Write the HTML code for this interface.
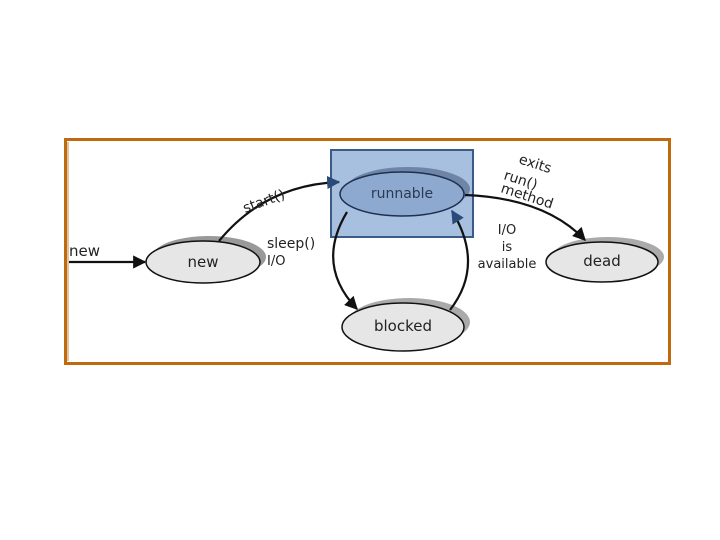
<!DOCTYPE html>
<html><head><style>body{margin:0;background:#fff}svg{display:block}text{font-family:"DejaVu Sans","Liberation Sans",sans-serif;fill:#222}</style></head>
<body><svg width="720" height="540" viewBox="0 0 720 540">
<defs><marker id="a" viewBox="0 0 10 10" refX="9" refY="5" markerWidth="6" markerHeight="6" orient="auto"><path d="M0,0L10,5L0,10z" fill="#111"/></marker>
<marker id="b" viewBox="0 0 10 10" refX="9" refY="5" markerWidth="6" markerHeight="6" orient="auto"><path d="M0,0L10,5L0,10z" fill="#2a4a78"/></marker></defs>
<rect x="65.5" y="139.5" width="604" height="224" fill="#fff" stroke="#c06a10" stroke-width="3"/>
<line x1="68" y1="142" x2="68" y2="361" stroke="#c08a40" stroke-width="1"/>
<rect x="331" y="150" width="142" height="87" fill="#a8c0e0" stroke="#3a5a88" stroke-width="2"/>
<!-- shadows -->
<ellipse cx="209" cy="257" rx="57" ry="21" fill="#999"/>
<ellipse cx="408" cy="189" rx="62" ry="22" fill="#6f85a8"/>
<ellipse cx="409" cy="322" rx="61" ry="24" fill="#aaa"/>
<ellipse cx="608" cy="257" rx="56" ry="20" fill="#aaa"/>
<ellipse cx="203" cy="262" rx="57" ry="21" fill="#e6e6e6" stroke="#111" stroke-width="1.5"/>
<ellipse cx="402" cy="194" rx="62" ry="22" fill="#8ea9cf" stroke="#1e3050" stroke-width="1.5"/>
<ellipse cx="403" cy="327" rx="61" ry="24" fill="#e6e6e6" stroke="#111" stroke-width="1.5"/>
<ellipse cx="602" cy="262" rx="56" ry="20" fill="#e6e6e6" stroke="#111" stroke-width="1.5"/>
<g fill="none" stroke="#111" stroke-width="2.2">
<line x1="69" y1="262" x2="145" y2="262" marker-end="url(#a)"/>
<path d="M219,241 Q265,185 339,182" marker-end="url(#b)"/>
<path d="M465,195 Q545,198 585,240" marker-end="url(#a)"/>
<path d="M347,212 Q315,265 357,309" marker-end="url(#a)"/>
<path d="M450,310 Q485,265 452,211" marker-end="url(#b)"/>
</g>
<text x="69" y="256" font-size="15">new</text>
<text x="203" y="267" font-size="15" text-anchor="middle">new</text>
<text x="402" y="198" font-size="14" text-anchor="middle" style="fill:#2a3a55">runnable</text>
<text x="403" y="331" font-size="15" text-anchor="middle">blocked</text>
<text x="602" y="266" font-size="15" text-anchor="middle">dead</text>
<text x="245" y="213" font-size="14" transform="rotate(-20 245 213)">start()</text>
<text x="267" y="248" font-size="14">sleep()</text>
<text x="267" y="265" font-size="13">I/O</text>
<text x="518" y="163" font-size="14" transform="rotate(18 518 163)">exits</text>
<text x="503" y="179" font-size="14" transform="rotate(18 503 179)">run()</text>
<text x="500" y="192" font-size="14" transform="rotate(18 500 192)">method</text>
<text x="507" y="234" font-size="13" text-anchor="middle">I/O</text>
<text x="507" y="251" font-size="13" text-anchor="middle">is</text>
<text x="507" y="268" font-size="13" text-anchor="middle">available</text>
</svg></body></html>
